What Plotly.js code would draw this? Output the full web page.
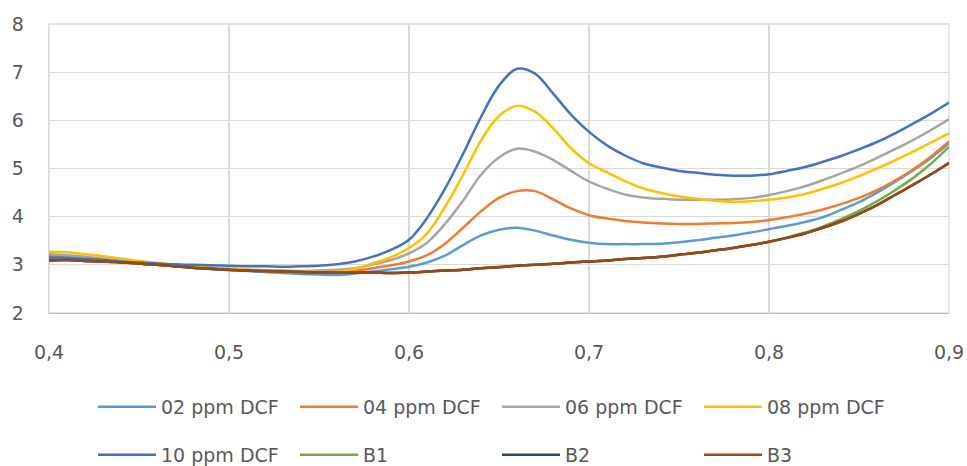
<!DOCTYPE html>
<html>
<head>
<meta charset="utf-8">
<script src="https://cdn.plot.ly/plotly-3.0.1.min.js"></script>
<style>html,body{margin:0;padding:0;background:#fff;}#chart{width:967px;height:466px;}</style>
</head>
<body>
<div id="chart"></div>
<script>
// Wavelength-like x values (0.40 .. 0.90, step 0.01)
const xValues = [0.40,0.41,0.42,0.43,0.44,0.45,0.46,0.47,0.48,0.49,
  0.50,0.51,0.52,0.53,0.54,0.55,0.56,0.57,0.58,0.59,
  0.60,0.61,0.62,0.63,0.64,0.65,0.66,0.67,0.68,0.69,
  0.70,0.71,0.72,0.73,0.74,0.75,0.76,0.77,0.78,0.79,
  0.80,0.81,0.82,0.83,0.84,0.85,0.86,0.87,0.88,0.89,0.90];

const seriesNames = ["02 ppm DCF","04 ppm DCF","06 ppm DCF","08 ppm DCF","10 ppm DCF","B1","B2","B3"];

const ppm02 = [3.20,3.18,3.15,3.11,3.07,3.03,3.00,2.97,2.94,2.91,
  2.89,2.87,2.85,2.83,2.81,2.80,2.79,2.82,2.86,2.91,
  2.96,3.05,3.19,3.41,3.61,3.73,3.77,3.71,3.61,3.52,
  3.46,3.43,3.43,3.43,3.44,3.47,3.51,3.56,3.61,3.67,
  3.74,3.81,3.89,3.99,4.14,4.30,4.50,4.72,4.96,5.22,5.52];

const ppm04 = [3.15,3.14,3.12,3.09,3.06,3.03,3.00,2.97,2.95,2.93,
  2.91,2.89,2.87,2.86,2.85,2.85,2.86,2.88,2.93,2.99,
  3.07,3.20,3.44,3.77,4.11,4.39,4.53,4.53,4.36,4.17,
  4.03,3.96,3.91,3.88,3.86,3.85,3.85,3.86,3.87,3.89,
  3.93,3.99,4.06,4.15,4.26,4.39,4.55,4.75,4.98,5.25,5.56];

const ppm06 = [3.22,3.20,3.17,3.13,3.09,3.05,3.02,2.99,2.96,2.94,
  2.92,2.90,2.89,2.88,2.87,2.88,2.90,2.93,3.01,3.10,
  3.24,3.46,3.85,4.33,4.87,5.23,5.41,5.35,5.18,4.95,
  4.73,4.58,4.46,4.40,4.37,4.35,4.35,4.35,4.36,4.39,
  4.45,4.53,4.63,4.76,4.90,5.05,5.22,5.40,5.59,5.80,6.02];

const ppm08 = [3.27,3.26,3.22,3.18,3.13,3.08,3.04,3.00,2.97,2.94,
  2.92,2.90,2.88,2.86,2.85,2.85,2.86,2.92,3.03,3.16,
  3.35,3.65,4.20,4.87,5.58,6.09,6.30,6.18,5.84,5.42,
  5.11,4.92,4.74,4.59,4.49,4.42,4.37,4.33,4.31,4.32,
  4.35,4.40,4.47,4.58,4.70,4.84,5.00,5.17,5.35,5.54,5.73];

const ppm10 = [3.15,3.14,3.12,3.10,3.07,3.05,3.03,3.01,3.00,2.99,
  2.98,2.97,2.97,2.96,2.97,2.98,3.01,3.07,3.17,3.31,
  3.52,3.97,4.58,5.30,6.07,6.72,7.07,6.97,6.56,6.12,
  5.76,5.48,5.27,5.11,5.02,4.95,4.91,4.87,4.85,4.85,
  4.88,4.95,5.03,5.14,5.26,5.40,5.55,5.73,5.93,6.14,6.37];

const b1 = [3.10,3.10,3.08,3.07,3.05,3.03,3.00,2.97,2.94,2.92,
  2.90,2.88,2.87,2.86,2.85,2.84,2.84,2.84,2.84,2.83,
  2.84,2.86,2.88,2.90,2.93,2.96,2.98,3.00,3.02,3.05,
  3.07,3.09,3.12,3.14,3.17,3.21,3.25,3.30,3.35,3.41,
  3.48,3.57,3.67,3.80,3.95,4.12,4.32,4.55,4.80,5.10,5.45];

const b2 = [3.09,3.10,3.08,3.07,3.05,3.03,3.00,2.97,2.94,2.92,
  2.90,2.88,2.87,2.86,2.85,2.84,2.84,2.84,2.84,2.83,
  2.84,2.86,2.88,2.90,2.93,2.95,2.98,3.00,3.02,3.05,
  3.07,3.09,3.12,3.14,3.17,3.21,3.25,3.30,3.35,3.41,
  3.48,3.56,3.65,3.77,3.90,4.06,4.24,4.45,4.66,4.88,5.12];

const b3 = [3.08,3.10,3.08,3.07,3.05,3.03,3.00,2.97,2.94,2.92,
  2.90,2.88,2.87,2.86,2.85,2.84,2.84,2.84,2.84,2.83,
  2.84,2.86,2.88,2.90,2.93,2.95,2.98,3.00,3.02,3.05,
  3.07,3.09,3.12,3.14,3.17,3.21,3.25,3.30,3.35,3.41,
  3.48,3.56,3.65,3.77,3.90,4.06,4.24,4.45,4.66,4.88,5.11];

const colors = ["#5B9BD5","#ED7D31","#A5A5A5","#FFC000","#4472C4","#70AD47","#264478","#9E480E"];
const allSeries = [ppm02, ppm04, ppm06, ppm08, ppm10, b1, b2, b3];

const traces = allSeries.map((ys, i) => ({
  type: "scatter",
  mode: "lines",
  name: seriesNames[i],
  x: xValues,
  y: ys,
  line: {color: colors[i], width: 2.5, shape: "spline", smoothing: 1},
  legend: i < 4 ? "legend" : "legend2",
  hoverinfo: "x+y+name"
}));

const fontFam = "DejaVu Sans, sans-serif";
const textColor = "#595959";
const legendCommon = {
  orientation: "h",
  xref: "container", yref: "container",
  x: 93/967, xanchor: "left",
  yanchor: "middle",
  bgcolor: "rgba(0,0,0,0)",
  font: {family: fontFam, size: 19, color: textColor},
  entrywidth: 129, entrywidthmode: "pixels",
  itemwidth: 58,
  traceorder: "normal"
};

const layout = {
  width: 967, height: 466,
  margin: {l: 49, r: 18, t: 24, b: 153},
  paper_bgcolor: "#ffffff",
  plot_bgcolor: "#ffffff",
  font: {family: fontFam, size: 19, color: textColor},
  separators: ", ",
  showlegend: true,
  xaxis: {
    range: [0.4, 0.9], dtick: 0.1, tick0: 0.4,
    tickformat: ".1f",
    showgrid: true, gridcolor: "#D9D9D9", gridwidth: 1.3,
    zeroline: false,
    showline: true, linecolor: "#BFBFBF", linewidth: 1.3, mirror: false,
    ticks: "outside", ticklen: 22, tickcolor: "rgba(0,0,0,0)",
    tickfont: {family: fontFam, size: 19, color: textColor}
  },
  yaxis: {
    range: [2, 8], dtick: 1, tick0: 2,
    showgrid: true, gridcolor: "#D9D9D9", gridwidth: 1.3,
    zeroline: false,
    showline: true, linecolor: "#D9D9D9", linewidth: 1.3,
    ticks: "outside", ticklen: 20, tickcolor: "rgba(0,0,0,0)",
    tickfont: {family: fontFam, size: 19, color: textColor}
  },
  shapes: [{type: "rect", xref: "paper", yref: "paper", x0: 0, x1: 1, y0: 0, y1: 1,
    line: {color: "#D9D9D9", width: 1.3}, layer: "below"}],
  legend: Object.assign({}, legendCommon, {y: 1 - 407/466}),
  legend2: Object.assign({}, legendCommon, {y: 1 - 455/466})
};

Plotly.newPlot("chart", traces, layout, {displayModeBar: false, staticPlot: true});
</script>
</body>
</html>
